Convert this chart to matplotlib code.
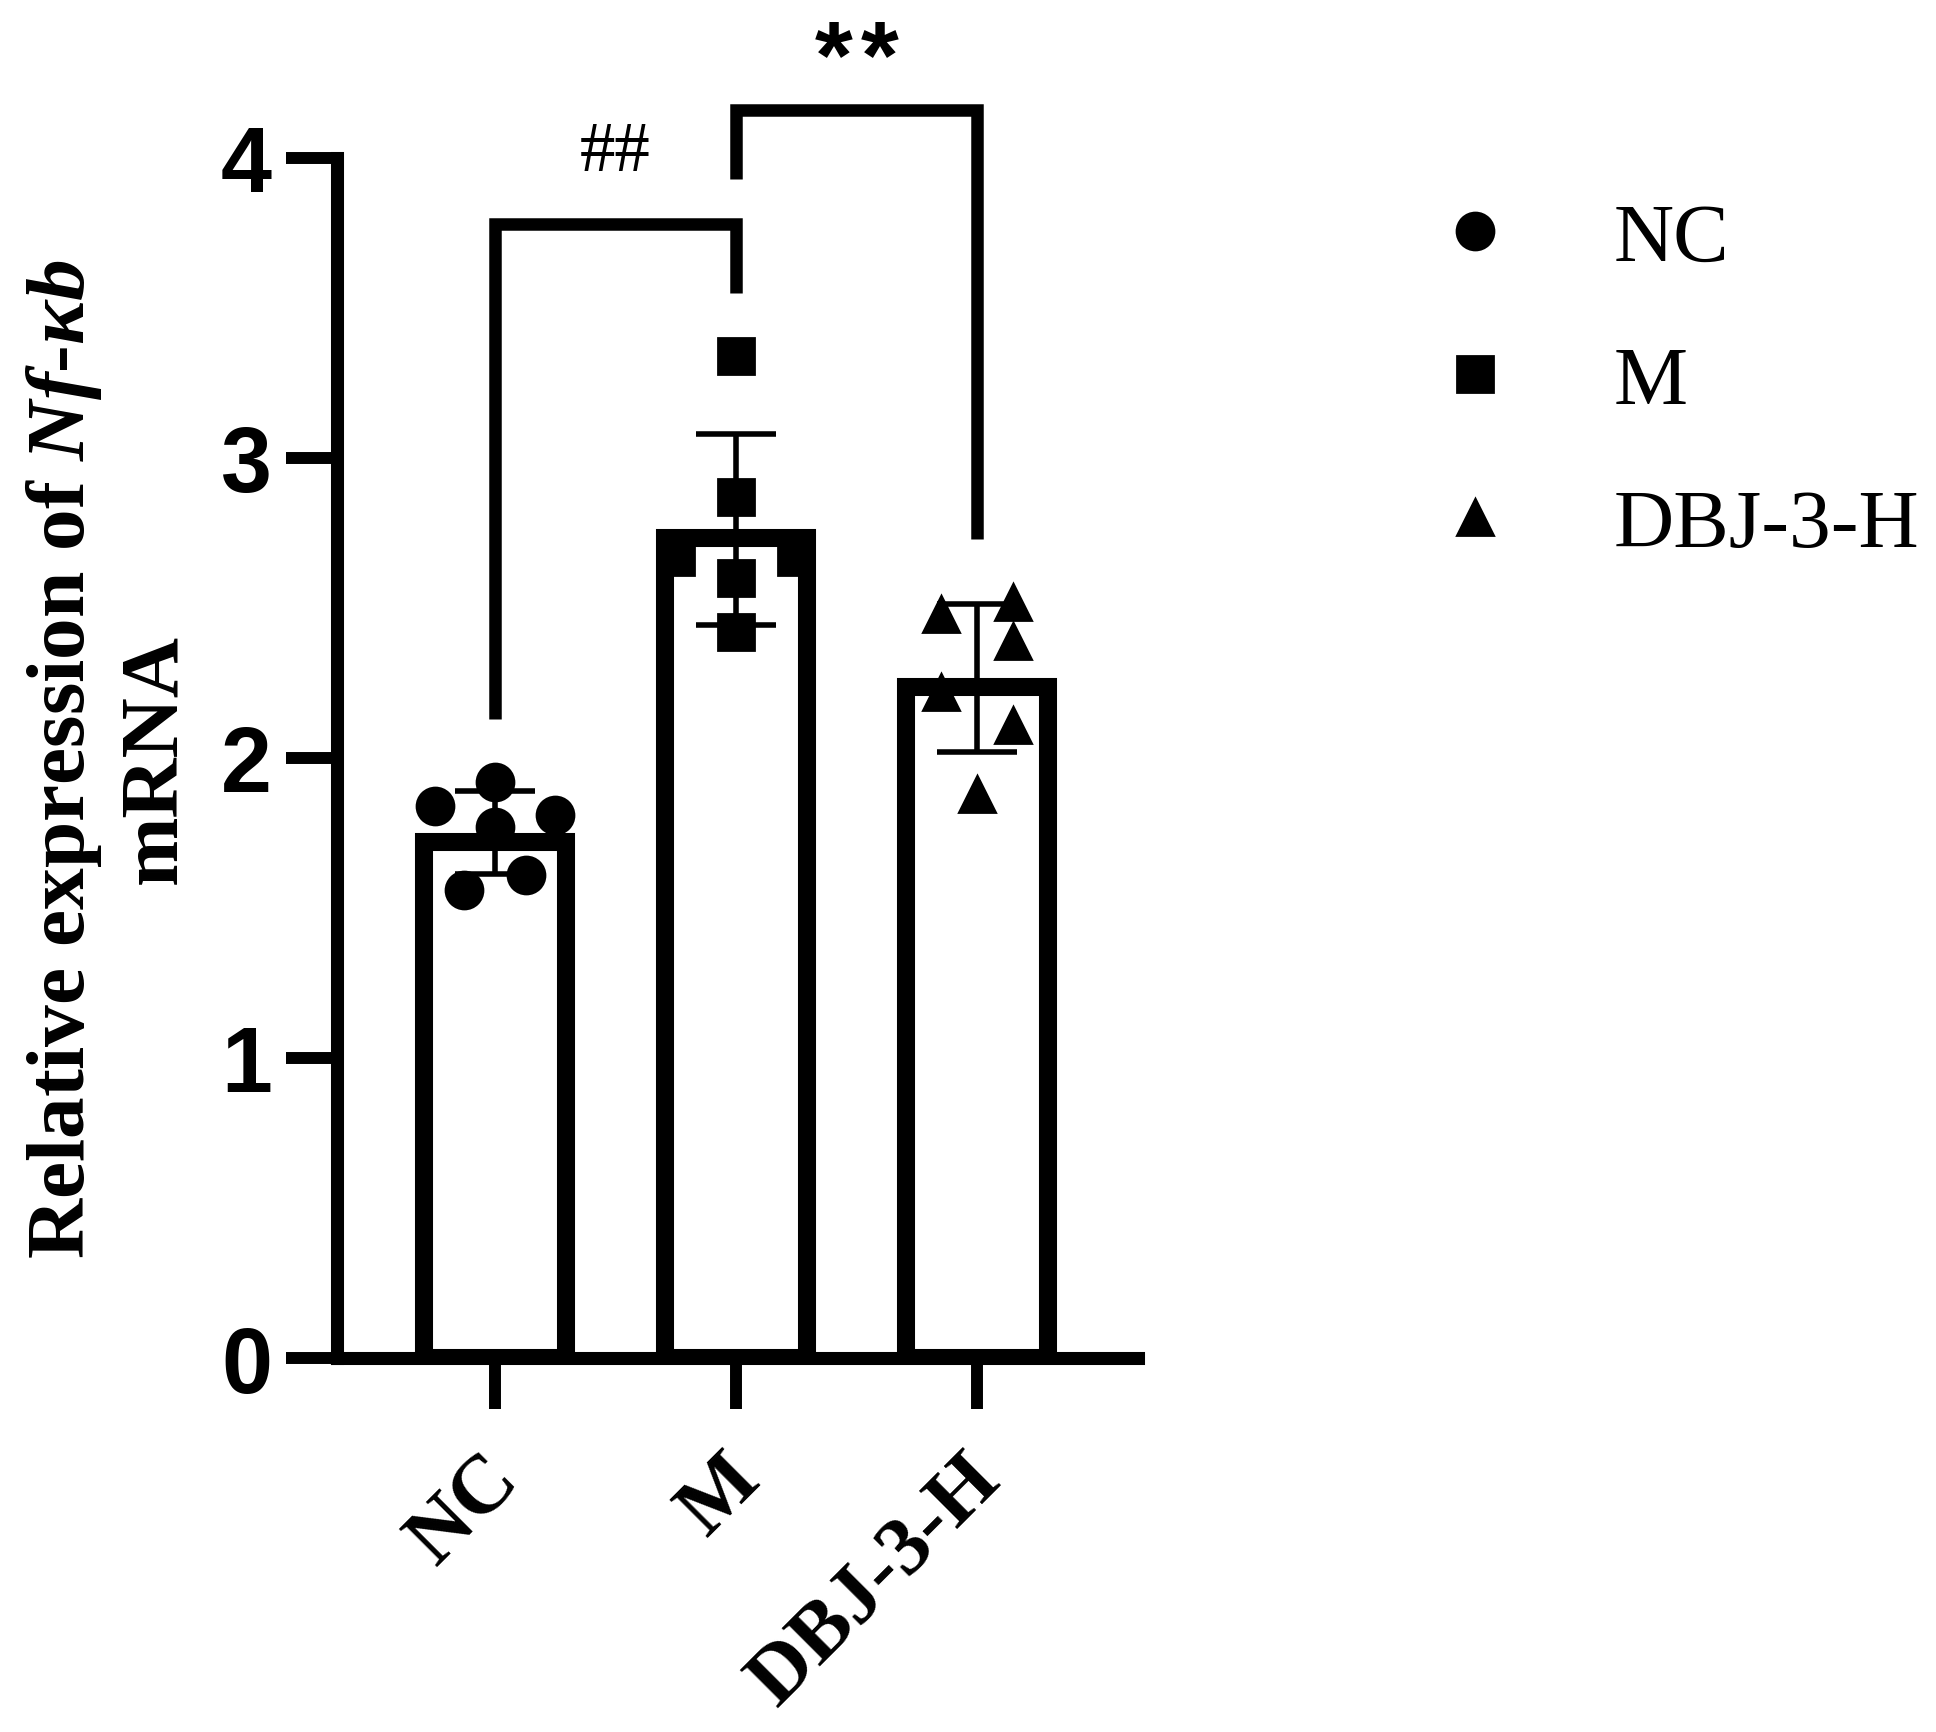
import numpy as np
import matplotlib
matplotlib.use('Agg')
import matplotlib.pyplot as plt
import matplotlib.transforms as mtransforms
from matplotlib.lines import Line2D

groups = ['NC', 'M', 'DBJ-3-H']
nc_vals = [1.84, 1.92, 1.81, 1.77, 1.61, 1.56]
m_vals = [3.34, 2.87, 2.67, 2.67, 2.60, 2.42]
dbj_vals = [2.48, 2.52, 2.39, 2.22, 2.11, 1.88]

# horizontal spread of the dots inside each bar
nc_jitter = [-0.25, 0.0, 0.25, 0.0, 0.13, -0.13]
m_jitter = [0.0, 0.0, -0.25, 0.25, 0.0, 0.0]
dbj_jitter = [-0.15, 0.15, 0.15, -0.15, 0.15, 0.0]

markers = ['o', 's', '^']

# significance brackets: (group a, group b), bracket height, leg ends, label
sig_pairs = [(0, 1), (1, 2)]
sig_tops = [3.78, 4.16]
sig_legs = [(2.13, 3.55), (3.93, 2.73)]
sig_labels = ['##', '**']

all_vals = [nc_vals, m_vals, dbj_vals]
all_jit = [nc_jitter, m_jitter, dbj_jitter]
means = [np.mean(v) for v in all_vals]
sds = [np.std(v, ddof=1) for v in all_vals]

plt.rcParams['font.family'] = 'Liberation Serif'
plt.rcParams['mathtext.fontset'] = 'custom'
plt.rcParams['mathtext.it'] = 'Liberation Serif:bold:italic'
plt.rcParams['mathtext.rm'] = 'Liberation Serif:bold'

DPI = 200
fig = plt.figure(figsize=(1936 / DPI, 1733 / DPI), dpi=DPI)
ax = fig.add_axes([0.1741, 0.2158, 0.4137, 0.6925])

x = np.arange(len(groups))
bar_lw = 6.5
ax.set_xlim(-0.656, 2.668)
ax.set_ylim(0, 4)

# keep the outer edge of the bar outline at the mean (GraphPad style)
ax_h_px = 0.6925 * fig.get_figheight() * DPI
half_lw = bar_lw / 72 * DPI / 2 / ax_h_px * 4
ax.bar(x, np.array(means) - half_lw, width=0.59, color='white',
       edgecolor='black', linewidth=bar_lw, zorder=1)

for i in range(len(groups)):
    xs = x[i] + np.array(all_jit[i])
    ax.plot(xs, all_vals[i], linestyle='none', marker=markers[i],
            markersize=13.3, color='black', zorder=3)

ax.errorbar(x, means, yerr=sds, fmt='none', ecolor='black',
            elinewidth=2.0, capsize=14.4, capthick=2.0, zorder=4)

# brackets
for (a, b), top, (la, lb), lab in zip(sig_pairs, sig_tops, sig_legs, sig_labels):
    ax.plot([a, a, b, b], [la, top, top, lb], color='black', lw=4.5,
            clip_on=False, solid_joinstyle='miter', solid_capstyle='butt')
    if lab == '##':
        ax.text((a + b) / 2, top + 0.13, lab, ha='center', va='bottom',
                fontsize=25.5, clip_on=False)
    else:
        # asterisks are spaced apart a little
        n = len(lab)
        for k, ch in enumerate(lab):
            ax.annotate(ch, xy=((a + b) / 2, top + 0.075),
                        xytext=((k - (n - 1) / 2) * 16.6, 0),
                        textcoords='offset points', ha='center',
                        va='baseline', fontsize=35,
                        fontfamily='Liberation Sans', fontweight='bold',
                        annotation_clip=False)

for s in ['top', 'right']:
    ax.spines[s].set_visible(False)
for s in ['left', 'bottom']:
    ax.spines[s].set_linewidth(4.7)

ax.set_yticks([0, 1, 2, 3, 4])
ax.tick_params(axis='both', length=18.4, width=4.3, direction='out')
ax.tick_params(axis='y', pad=5)
ax.tick_params(axis='x', pad=21)
for lab in ax.get_yticklabels():
    lab.set_fontfamily('Liberation Sans')
    lab.set_fontweight('bold')
    lab.set_fontsize(33)
ax.set_xticks(x)
ax.set_xticklabels(groups, rotation=45, rotation_mode='anchor', ha='right',
                   va='center', fontsize=30, fontweight='bold')
shift = mtransforms.ScaledTranslation(4.3 / 72, 0, fig.dpi_scale_trans)
for lab in ax.get_xticklabels():
    lab.set_transform(lab.get_transform() + shift)

ax.set_ylabel('Relative expression of $Nf$-$\\kappa b$\nmRNA', fontsize=30,
              fontweight='bold', linespacing=1.25)
ax.yaxis.set_label_coords(-0.1795, 0.5)

handles = [Line2D([], [], linestyle='none', marker=m, markersize=13.3,
                  color='black') for m in markers]
fig.legend(handles, groups, loc='upper left', bbox_to_anchor=(0.7404, 0.883),
           frameon=False, fontsize=30, handlelength=1.0, handletextpad=1.16,
           labelspacing=0.8, borderpad=0, borderaxespad=0)

fig.savefig('out.png', dpi=DPI)
